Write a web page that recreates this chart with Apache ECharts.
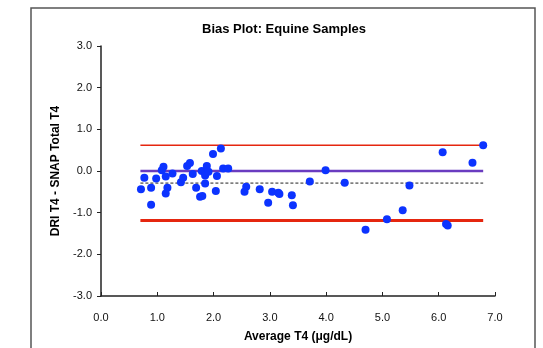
<!DOCTYPE html>
<html>
<head>
<meta charset="utf-8">
<script src="https://cdn.jsdelivr.net/npm/echarts@6/dist/echarts.min.js"></script>
<style>
    html, body { margin: 0; padding: 0; background: #fff; }
    #chart { width: 543px; height: 348px; }
</style>
</head>
<body>
<div id="chart"></div>
<script>
    // average T4 of each sample (x) and DRI - SNAP difference (y)
    var avgT4 = [
        0.71, 0.77, 0.89, 0.89, 0.98, 1.08, 1.11, 1.15, 1.18, 1.15,
        1.27, 1.42, 1.46, 1.53, 1.58, 1.63, 1.69, 1.76, 1.80, 1.79,
        1.88, 1.85, 1.91, 1.85, 1.99, 2.13, 2.06, 2.04, 2.17, 2.26,
        2.58, 2.55, 2.82, 2.97, 3.04, 3.15, 3.17, 3.39, 3.41, 3.71,
        3.99, 4.33, 4.70, 5.08, 5.36, 5.48, 6.07, 6.13, 6.16, 6.60,
        6.79
    ];
    var diffT4 = [
        -0.44, -0.16, -0.40, -0.81, -0.18, 0.02, 0.10, -0.13, -0.40, -0.54,
        -0.06, -0.27, -0.16, 0.12, 0.19, -0.07, -0.40, -0.62, -0.60, 0.00,
        0.12, -0.11, -0.02, -0.30, 0.41, 0.54, -0.12, -0.48, 0.06, 0.06,
        -0.38, -0.50, -0.44, -0.76, -0.50, -0.52, -0.55, -0.58, -0.82, -0.25,
        0.02, -0.28, -1.41, -1.16, -0.94, -0.35, 0.45, -1.27, -1.31, 0.20,
        0.62
    ];
    // reference lines span the data range
    var lineRange = [0.70, 6.79];
    var upperLimit = 0.62;
    var zeroLine = 0.0;
    var meanBias = -0.29;
    var lowerLimit = -1.19;

    var xTicks = [0, 7, 1];
    var yTicks = [-3, 3, 1];

    var points = avgT4.map(function (x, i) { return [x, diffT4[i]]; });

    var hLine = function (val) {
        return [[lineRange[0], val], [lineRange[1], val]];
    };

    var lineSeries = function (val, color, width, type, z) {
        return {
            type: 'line',
            data: hLine(val),
            symbol: 'none',
            silent: true,
            z: z,
            lineStyle: { color: color, width: width, type: type }
        };
    };

    var font = '"Liberation Sans", Arial, sans-serif';
    var chart = echarts.init(document.getElementById('chart'));

    chart.setOption({
        animation: false,
        backgroundColor: '#fff',
        textStyle: { fontFamily: font },
        title: {
            text: 'Bias Plot: Equine Samples',
            left: 279,
            top: 18,
            textAlign: 'center',
            textStyle: { fontSize: 13, fontWeight: 'bold', color: '#000', fontFamily: font }
        },
        graphic: [{
            type: 'rect',
            shape: { x: 31, y: 8, width: 504, height: 360 },
            style: { fill: null, stroke: '#555', lineWidth: 1.5 },
            silent: true
        }],
        grid: { left: 101, right: 48, top: 46, bottom: 52 },
        xAxis: {
            type: 'value',
            min: xTicks[0], max: xTicks[1], interval: xTicks[2],
            name: 'Average T4 (\u03bcg/dL)',
            nameLocation: 'middle',
            nameGap: 35,
            nameTextStyle: { fontSize: 12, fontWeight: 'bold', color: '#000', fontFamily: font },
            axisLine: { onZero: false, lineStyle: { color: '#222', width: 1.5 } },
            axisTick: { inside: true, length: 4, lineStyle: { color: '#222' } },
            axisLabel: {
                fontSize: 11, color: '#111', margin: 16,
                formatter: function (v) { return v.toFixed(1); }
            },
            splitLine: { show: false }
        },
        yAxis: {
            type: 'value',
            min: yTicks[0], max: yTicks[1], interval: yTicks[2],
            name: 'DRI T4 - SNAP Total T4',
            nameLocation: 'middle',
            nameGap: 37,
            nameTextStyle: { fontSize: 12, fontWeight: 'bold', color: '#000', fontFamily: font },
            axisLine: { onZero: false, lineStyle: { color: '#222', width: 1.5 } },
            axisTick: { length: 4, lineStyle: { color: '#222' } },
            axisLabel: {
                fontSize: 11, color: '#111', margin: 9,
                formatter: function (v) { return v.toFixed(1); }
            },
            splitLine: { show: false }
        },
        series: [
            lineSeries(upperLimit, '#e5260f', 1.5, 'solid', 2),
            lineSeries(lowerLimit, '#e5260f', 3, 'solid', 2),
            lineSeries(zeroLine, '#6a3cc0', 2.5, 'solid', 2),
            lineSeries(meanBias, '#222', 1, [3, 2], 2),
            {
                type: 'scatter',
                data: points,
                symbol: 'circle',
                symbolSize: 8,
                z: 5,
                itemStyle: { color: '#0c33ff', opacity: 1 }
            }
        ]
    });
</script>
</body>
</html>
